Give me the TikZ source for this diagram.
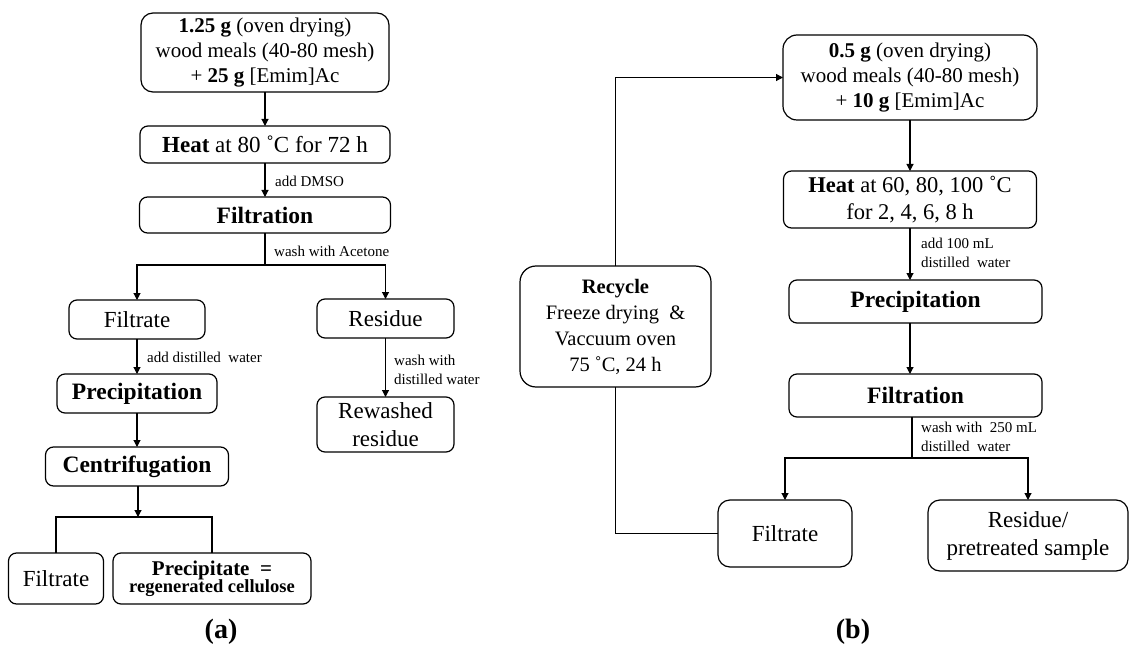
\documentclass[tikz,border=0pt]{standalone}
\usepackage{fontspec}
\setmainfont{Liberation Serif}
\usetikzlibrary{arrows.meta}
\begin{document}
\begin{tikzpicture}[x=1pt,y=-1pt,
  box/.style={draw, line width=1.2pt, rounded corners=8pt, align=center, inner sep=0pt, outer sep=0pt},
  big/.style={font=\fontsize{21}{25}\selectfont},
  mid/.style={font=\fontsize{23}{28}\selectfont},
  hdr/.style={font=\bfseries\fontsize{23.5}{28}\selectfont},
  lbl/.style={font=\fontsize{15}{19}\selectfont, align=left, anchor=west, inner sep=0pt},
  arr/.style={line width=1.1pt, -{Triangle[length=7pt,width=7pt]}},
  ln/.style={line width=1.1pt},
  captxt/.style={font=\bfseries\fontsize{28}{32}\selectfont}]
\useasboundingbox (0,0) rectangle (1132,655);

% ---------- (a) ----------
\node[box, big, rounded corners=12pt, minimum width=248pt, minimum height=79pt] (a1) at (265,52.5)
  {\textbf{1.25 g} (oven drying)\\wood meals (40-80 mesh)\\+ \textbf{25 g} [Emim]Ac};
\node[box, mid, minimum width=250pt, minimum height=37pt] (a2) at (265,144.5)
  {\textbf{Heat} at 80 ˚C for 72 h};
\node[box, hdr, minimum width=251pt, minimum height=36pt] (a3) at (265,215) {Filtration};
\node[box, mid, minimum width=136pt, minimum height=39pt] (af) at (137,319.5) {Filtrate};
\node[box, mid, minimum width=137pt, minimum height=39pt] (ar) at (385.5,318.5) {Residue};
\node[box, hdr, minimum width=160pt, minimum height=39pt] (ap) at (137,393.5) {Precipitation};
\node[box, hdr, minimum width=183pt, minimum height=39pt] (ac) at (137,466.5) {Centrifugation};
\node[box, mid, minimum width=137pt, minimum height=55pt] (aw) at (385.5,424.5) {Rewashed\\residue};
\node[box, mid, minimum width=95pt, minimum height=51pt] (af2) at (56,578.5) {Filtrate};
\node[box, minimum width=198pt, minimum height=51pt] (apc) at (212,578.5)
  {{\bfseries\fontsize{21}{24}\selectfont Precipitate ~=}\\[-1pt]{\bfseries\fontsize{18.5}{22}\selectfont regenerated cellulose}};
\node[captxt] (capa) at (221,632) {(a)};

\draw[arr] (a1.south) -- (a2.north);
\draw[arr] (a2.south) -- (a3.north);
\node[lbl] (l1) at (275,181) {add DMSO};
\coordinate (fa) at (265,265);
\draw[ln] (a3.south) -- (fa);
\node[lbl] (l2) at (274,251) {wash with Acetone};
\draw[arr] (fa) -| (af.north);
\draw[arr] (fa) -| (ar.north);
\draw[arr] (af.south) -- (ap.north);
\node[lbl] (l3) at (147,357) {add distilled \ water};
\draw[arr] (ap.south) -- (ac.north);
\draw[arr] (ar.south) -- (aw.north);
\node[lbl] (l4) at (394,370) {wash with\\distilled water};
\coordinate (sc) at (138,517);
\draw[arr] (ac.south -| sc) -- (sc);
\draw[ln] (sc) -| (af2.north);
\draw[ln] (sc) -| (apc.north);

% ---------- (b) ----------
\node[box, big, rounded corners=14pt, minimum width=254pt, minimum height=85pt] (b1) at (910,77.5)
  {\textbf{0.5 g} (oven drying)\\wood meals (40-80 mesh)\\+ \textbf{10 g} [Emim]Ac};
\node[box, font=\fontsize{22.5}{27}\selectfont, minimum width=253pt, minimum height=57pt] (b2) at (910,199.5)
  {\textbf{Heat} at 60, 80, 100 ˚C\\for 2, 4, 6, 8 h};
\node[box, hdr, minimum width=253pt, minimum height=43pt] (bp) at (915.5,301.5) {Precipitation};
\node[box, hdr, minimum width=253pt, minimum height=43pt] (bf) at (915.5,395.5) {Filtration};
\node[box, mid, rounded corners=12pt, minimum width=134pt, minimum height=67pt] (bfr) at (785,533.5) {Filtrate};
\node[box, mid, rounded corners=12pt, minimum width=200pt, minimum height=71pt] (bres) at (1028,535.5)
  {Residue/\\pretreated sample};
\node[box, font=\fontsize{20.5}{26}\selectfont, rounded corners=16pt, minimum width=191pt, minimum height=121pt] (rc) at (615.5,326.5)
  {\textbf{Recycle}\\Freeze drying \ \&\\Vaccuum oven\\75 ˚C, 24 h};
\node[captxt] (capb) at (853,632) {(b)};

\draw[arr] (b1.south) -- (b1.south |- b2.north);
\draw[arr] (b2.south) -- (b2.south |- bp.north);
\node[lbl] (l5) at (921,253) {add 100 mL\\distilled \ water};
\draw[arr] (bp.south -| b2.south) -- (bf.north -| b2.south);
\coordinate (fb) at (912,458);
\draw[ln] (bf.south -| fb) -- (fb);
\node[lbl] (l6) at (921,437) {wash with \ 250 mL\\distilled \ water};
\draw[arr] (fb) -| (bfr.north);
\draw[arr] (fb) -| (bres.north);
\draw[arr] (rc.north) |- (b1.west);
\draw[ln] (rc.south) |- (bfr.west);
\end{tikzpicture}
\end{document}
